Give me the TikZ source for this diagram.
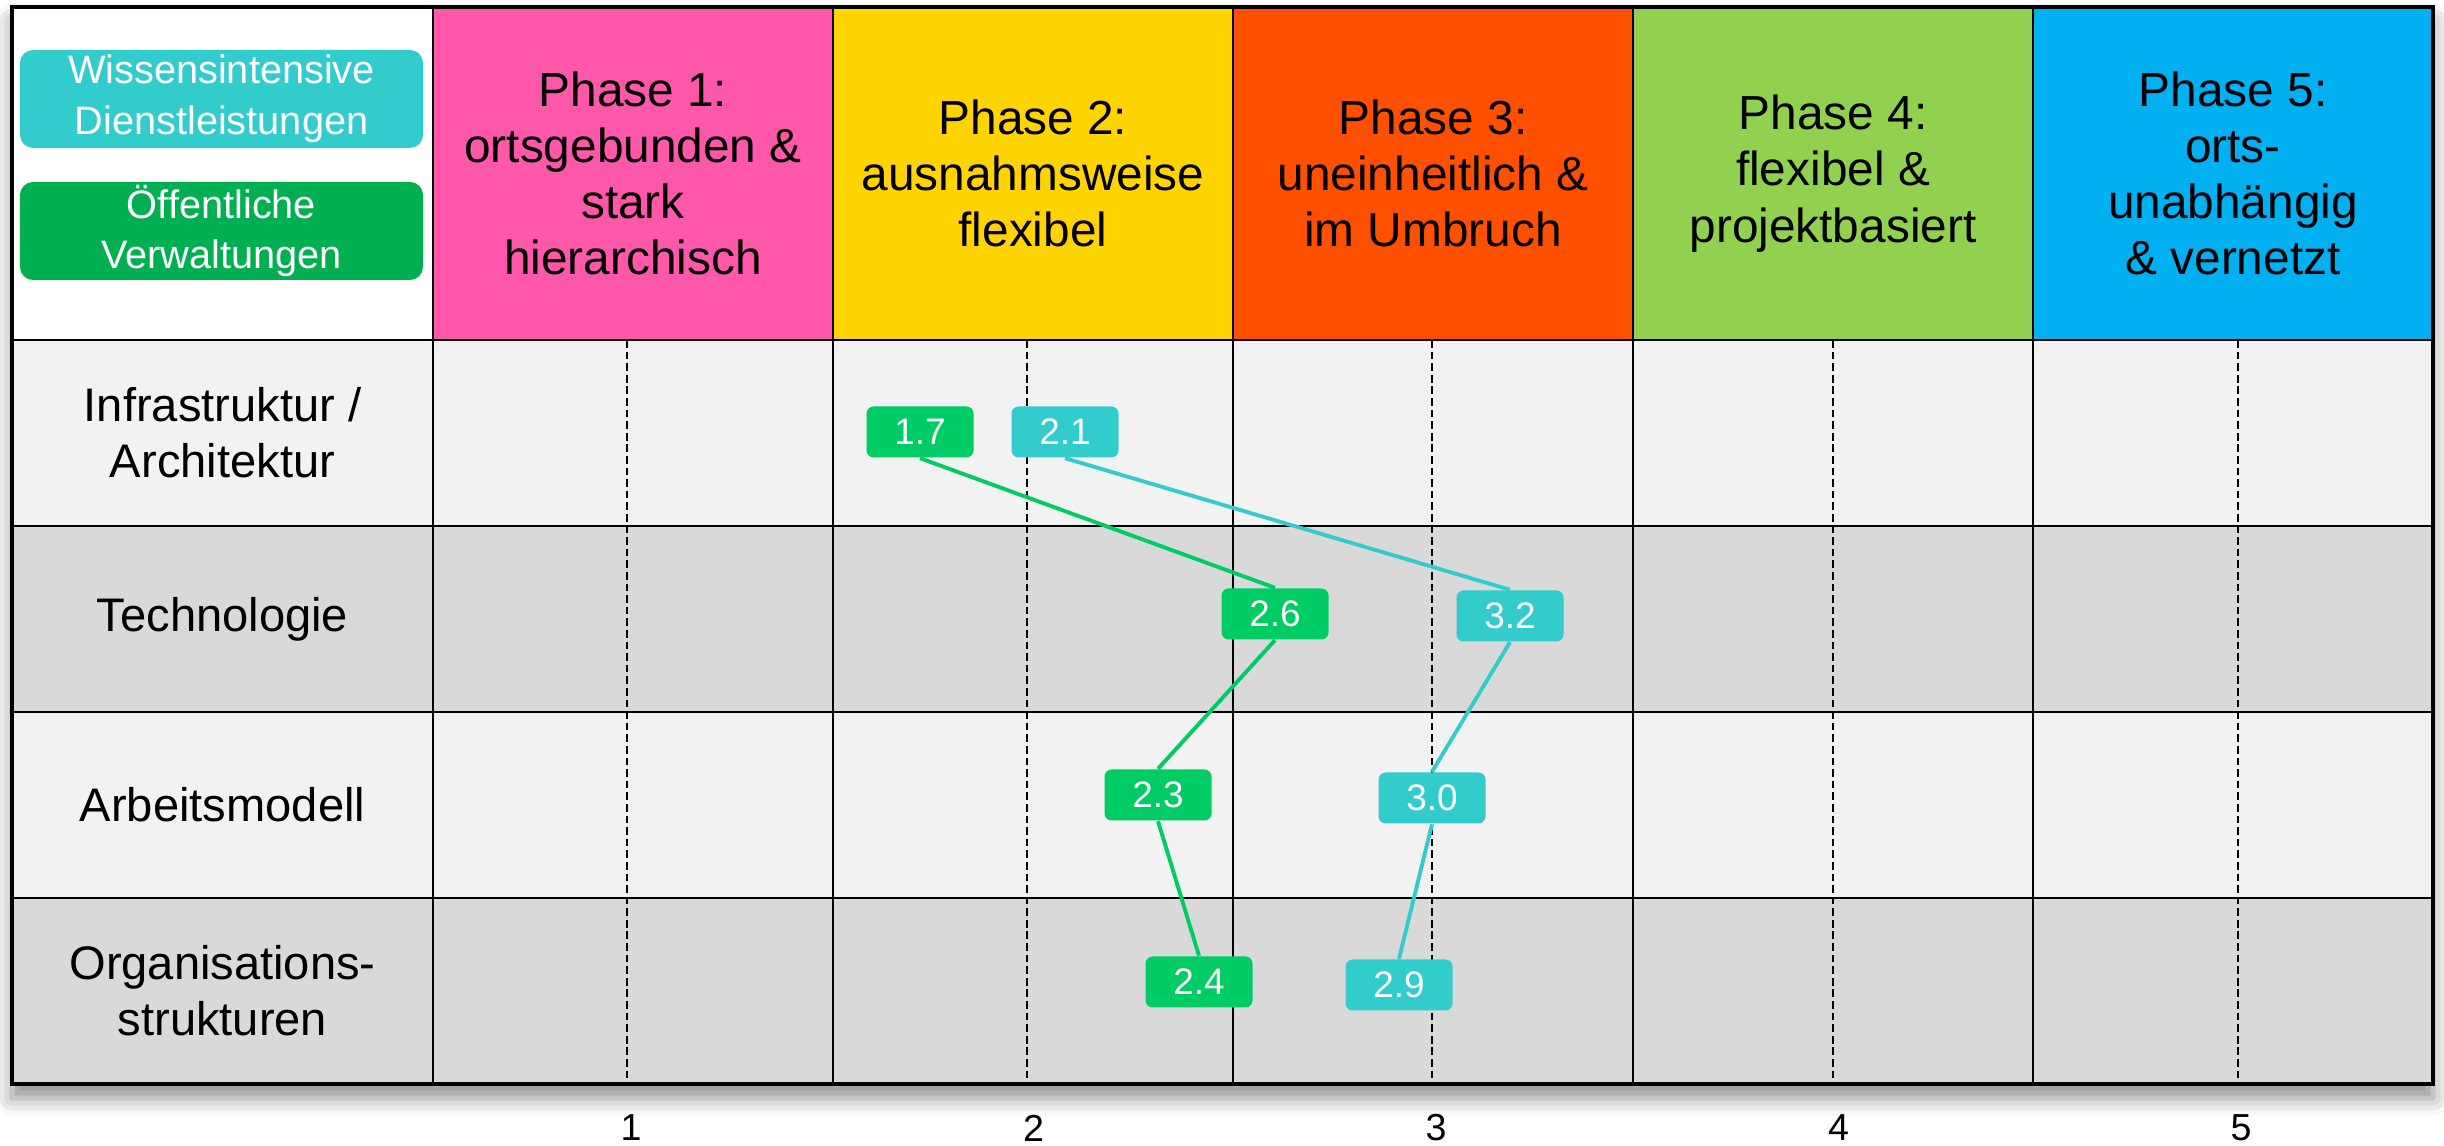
\documentclass[tikz,border=0pt]{standalone}
\usepackage{fontspec}
\setmainfont{Liberation Sans}
\usetikzlibrary{positioning, shadows.blur}

\definecolor{phaseA}{HTML}{FF57AA}
\definecolor{phaseB}{HTML}{FFD400}
\definecolor{phaseC}{HTML}{FF5000}
\definecolor{phaseD}{HTML}{92D050}
\definecolor{phaseE}{HTML}{00B0F0}
\definecolor{rowLight}{HTML}{F2F2F2}
\definecolor{rowDark}{HTML}{D9D9D9}
\definecolor{wissen}{HTML}{33CCCC}
\definecolor{verwalt}{HTML}{00B050}
\definecolor{verwaltVal}{HTML}{00CC66}

\begin{document}
\begin{tikzpicture}[x=1cm, y=1cm]
    \tikzstyle{phase}=[draw=black, line width=0.6pt, minimum width=4cm, minimum height=3.33cm, inner sep=0pt, align=center, font=\fontsize{13.6}{16}\selectfont]
    \tikzstyle{dim}=[align=center, font=\fontsize{13.4}{16}\selectfont]
    \tikzstyle{legend}=[rounded corners=0.13cm, minimum width=4.03cm, minimum height=0.98cm, inner sep=0pt, align=center, text=white, font=\fontsize{11.3}{14.4}\selectfont]
    \tikzstyle{val}=[rounded corners=2pt, minimum width=1.07cm, minimum height=0.51cm, inner sep=0pt, text=white, font=\fontsize{10.5}{12}\selectfont]
    \tikzstyle{valline}=[line width=1.1pt]

    \useasboundingbox (0,0) rectangle (24.44,11.46);

    % table body with shadow
    \fill[white, blur shadow={shadow xshift=0pt, shadow yshift=-4pt, shadow blur radius=5pt, shadow opacity=45}]
        (0.12,0.62) rectangle (24.33,11.39);
    \foreach \y/\c in {8.06/rowLight, 6.20/rowDark, 4.34/rowLight, 2.48/rowDark}
        \fill[\c] (0.12,\y) rectangle (24.33,\y-1.86);

    % dashed lines at the scale points
    \foreach \x in {6.27,10.27,14.32,18.33,22.38}
        \draw[line width=0.6pt, dash pattern=on 2.2pt off 1.1pt] (\x,8.06) -- (\x,0.62);

    % grid
    \foreach \y in {6.20,4.34,2.48}
        \draw[line width=0.7pt] (0.12,\y) -- (24.33,\y);
    \foreach \x in {4.33,8.33,12.33,16.33,20.33}
        \draw[line width=0.7pt] (\x,8.06) -- (\x,0.62);

    % phases
    \node[phase, fill=phaseA] (ph_1) at (6.33,9.725) {Phase 1:\\ortsgebunden \&\\stark\\hierarchisch};
    \node[phase, fill=phaseB] (ph_2) at (10.33,9.725) {Phase 2:\\ausnahmsweise\\flexibel};
    \node[phase, fill=phaseC] (ph_3) at (14.33,9.725) {Phase 3:\\uneinheitlich \&\\im Umbruch};
    \node[phase, fill=phaseD] (ph_4) at (18.33,9.725) {Phase 4:\\flexibel \&\\projektbasiert};
    \node[phase, fill=phaseE] (ph_5) at (22.33,9.725) {Phase 5:\\orts-\\unabhängig\\\& vernetzt};

    \draw[line width=0.7pt] (0.12,8.06) -- (24.33,8.06);
    \draw[line width=1.2pt] (0.12,0.62) rectangle (24.33,11.39);

    % legend
    \node[legend, fill=wissen] (leg_w) at (2.215,10.47) {Wissensintensive\\Dienstleistungen};
    \node[legend, fill=verwalt] (leg_v) at (2.215,9.15) {Öffentliche\\Verwaltungen};

    % dimensions
    \node[dim] (dim_1) at (2.225,7.13) {Infrastruktur /\\Architektur};
    \node[dim] (dim_2) at (2.225,5.27) {Technologie};
    \node[dim] (dim_3) at (2.225,3.41) {Arbeitsmodell};
    \node[dim] (dim_4) at (2.225,1.55) {Organisations-\\strukturen};

    % values
    \node[val, fill=verwaltVal] (v_17) at (9.20,7.14) {1.7};
    \node[val, fill=verwaltVal] (v_26) at (12.75,5.32) {2.6};
    \node[val, fill=verwaltVal] (v_23) at (11.58,3.51) {2.3};
    \node[val, fill=verwaltVal] (v_24) at (11.99,1.64) {2.4};

    \node[val, fill=wissen] (w_21) at (10.65,7.14) {2.1};
    \node[val, fill=wissen] (w_32) at (15.10,5.30) {3.2};
    \node[val, fill=wissen] (w_30) at (14.32,3.48) {3.0};
    \node[val, fill=wissen] (w_29) at (13.99,1.61) {2.9};

    \path[valline, draw=verwaltVal]
    (v_17.south) edge (v_26.north)
    (v_26.south) edge (v_23.north)
    (v_23.south) edge (v_24.north);

    \path[valline, draw=wissen]
    (w_21.south) edge (w_32.north)
    (w_32.south) edge (w_30.north)
    (w_30.south) edge (w_29.north);

    % scale
    \foreach \n [count=\i from 0] in {1,...,5}
        \node[font=\fontsize{10.7}{12}\selectfont] (sc_\n) at ({6.31+4.025*\i},0.18) {\n};
\end{tikzpicture}
\end{document}
